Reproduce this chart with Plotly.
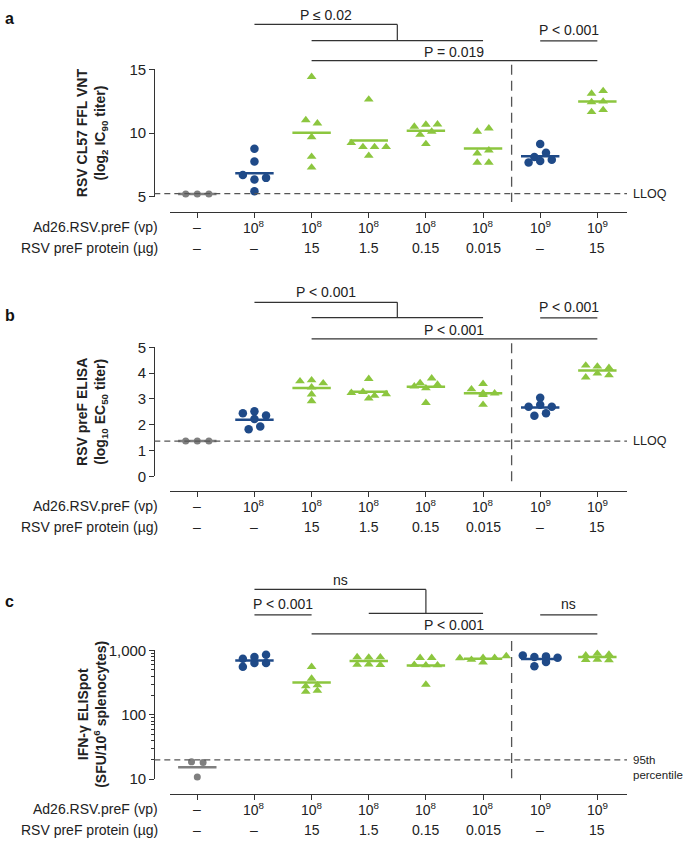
import numpy as np
import plotly.graph_objects as go

# ---------------- data ----------------
vp_labels = ["–", "10<sup>8</sup>", "10<sup>8</sup>", "10<sup>8</sup>", "10<sup>8</sup>",
             "10<sup>8</sup>", "10<sup>9</sup>", "10<sup>9</sup>"]
protein_labels = ["–", "–", "15", "1.5", "0.15", "0.015", "–", "15"]
group_type = ["control", "ad26", "combo", "combo", "combo", "combo", "ad26", "combo"]

# panel a: RSV CL57 FFL VNT (log2 IC90 titer)
vnt_values = [
    [5.23, 5.23, 5.23],
    [8.77, 7.77, 6.72, 6.36, 6.49, 5.44],
    [14.42, 11.03, 10.77, 9.69, 8.15, 7.31],
    [12.65, 9.23, 8.92, 8.92, 8.92, 8.23],
    [10.52, 10.67, 10.69, 9.88, 10.13, 9.15],
    [10.13, 10.38, 8.42, 8.65, 7.69, 7.69],
    [8.13, 7.69, 9.15, 8.46, 7.82, 7.92],
    [13.11, 12.44, 11.67, 13.31, 12.49, 11.82],
]
vnt_means = [5.23, 6.85, 10.03, 9.42, 10.18, 8.80, 8.18, 12.49]
vnt_lloq = 5.25

# panel b: RSV preF ELISA (log10 EC50 titer)
elisa_values = [
    [1.37, 1.37, 1.37],
    [2.45, 2.52, 2.36, 2.22, 1.83, 1.93],
    [3.69, 3.73, 3.61, 3.45, 3.18, 2.92],
    [3.02, 3.24, 3.28, 3.78, 3.13, 3.19],
    [3.62, 3.49, 3.80, 3.42, 3.56, 2.85],
    [3.38, 3.59, 3.22, 3.16, 3.22, 2.78],
    [2.70, 2.35, 3.05, 2.78, 2.45, 2.70],
    [4.30, 3.84, 4.26, 3.99, 4.21, 3.92],
]
elisa_means = [1.37, 2.20, 3.43, 3.28, 3.47, 3.22, 2.67, 4.10]
elisa_lloq = 1.37

# panel c: IFN-gamma ELISpot (SFU/10^6 splenocytes)
elispot_values = [
    [18.6, 10.8, 18.2],
    [745, 556, 791, 640, 859, 640],
    [556, 366, 279, 229, 289, 237],
    [790, 600, 780, 610, 785, 595],
    [600, 770, 590, 295, 770, 590],
    [760, 720, 770, 770, 820, 650],
    [838, 791, 569, 809, 662, 773],
    [840, 715, 889, 720, 869, 710],
]
elispot_means = [15.4, 695, 318, 687, 582, 745, 736, 790]
elispot_95th = 20

# ---------------- styles / layout constants ----------------
W, H = 685, 846
COLORS = {"control": "#7f7f7f", "ad26": "#1f4a88", "combo": "#8cc63f"}
SYMBOLS = {"control": "circle", "ad26": "circle", "combo": "triangle-up"}
SIZES = {"control": 7, "ad26": 8.5, "combo": 8.5}
AX = "#333333"
TXT = "#222222"
FONT = "Liberation Sans, Arial, sans-serif"

GX0, GDX = 140.15, 57.15          # pixel x of group 0, spacing per group
XAX_L, XAX_R = 170, 627           # x-axis line extent (px)
YAX_X = 154.3                     # y-axis line position (px)
STEP = 0.203                      # horizontal spacing of points in a row (group units)
HALF = 0.336                      # half length of mean bar (group units)
FS = 14                           # main text size


def px(v):
    return v / W


def py(v):
    return 1 - v / H


def gx(p):  # pixel -> group units
    return (p - GX0) / GDX


xrange_ = [gx(XAX_L), gx(XAX_R)]

panels = [
    dict(vals=vnt_values, means=vnt_means, thr=vnt_lloq, thr_label="LLOQ", thr_dy=0, thr_fs=12.5,
         rng=[5, 15], log=False,
         top=61.7, bot=191.7, xline=207, row1=222, row2=244,
         tickvals=[5, 10, 15], ticktext=["5", "10", "15"],
         title="RSV CL57 FFL VNT<br>(log<sub>2</sub> IC<sub>90</sub> titer)",
         letter="a", letter_y=10, vline=(57, 197),
         nested=[(2, 3, 6, 15.7, 32.3, "P ≤ 0.02", 6)],
         simple=[(7, 8, 32.5, "P < 0.001", 21), (3, 8, 52.7, "P = 0.019", 43.5)]),
    dict(vals=elisa_values, means=elisa_means, thr=elisa_lloq, thr_label="LLOQ", thr_dy=0, thr_fs=12.5,
         rng=[0, 5], log=False,
         top=345.3, bot=477, xline=491.7, row1=507, row2=529,
         tickvals=[0, 1, 2, 3, 4, 5], ticktext=["0", "1", "2", "3", "4", "5"],
         title="RSV preF ELISA<br>(log<sub>10</sub> EC<sub>50</sub> titer)",
         letter="b", letter_y=313, vline=(341, 482),
         nested=[(2, 3, 6, 299.3, 315, "P < 0.001", 289)],
         simple=[(7, 8, 315.3, "P < 0.001", 304.3), (3, 8, 336.7, "P < 0.001", 327.3)]),
    dict(vals=elispot_values, means=elispot_means, thr=elispot_95th, thr_label="95th<br>percentile",
         thr_dy=8, thr_fs=11.5, rng=[1, 3], log=True,
         top=654.6, bot=786, xline=800.7, row1=816, row2=838,
         tickvals=[10, 100, 1000], ticktext=["10", "100", "1,000"],
         title="IFN-γ ELISpot<br>(SFU/10<sup>6</sup> splenocytes)",
         letter="c", letter_y=605, vline=(645, 785),
         nested=[(2, 4, 6, 592.3, 616.7, "ns", 582.7)],
         simple=[(2, 3, 618.3, "P < 0.001", 607.7), (7, 8, 618.3, "ns", 607.7),
                 (3, 8, 637.7, "P < 0.001", 628.3)]),
]


def row_offsets(vals, ppu, log, thresh=5.0):
    """Arrange points of similar value side by side in centred rows."""
    v = np.log10(np.asarray(vals, float)) if log else np.asarray(vals, float)
    pix = v * ppu
    order = sorted(range(len(v)), key=lambda i: -pix[i])
    rows = []
    for i in order:
        if rows and rows[-1][0] - pix[i] <= thresh:
            rows[-1][1].append(i)
        else:
            rows.append([pix[i], [i]])
    offs = [0.0] * len(v)
    for _, idx in rows:
        idx = sorted(idx)
        n = len(idx)
        for k, i in enumerate(idx):
            offs[i] = (k - (n - 1) / 2) * STEP
    return offs


fig = go.Figure()
layout_axes = {}
shapes = []
annos = []

for pi, P in enumerate(panels):
    n = pi + 1
    xa = "x" if n == 1 else f"x{n}"
    ya = "y" if n == 1 else f"y{n}"
    xkey = "xaxis" if n == 1 else f"xaxis{n}"
    ykey = "yaxis" if n == 1 else f"yaxis{n}"
    lo, hi = P["rng"]
    ppu = (P["bot"] - P["top"]) / (hi - lo)

    layout_axes[xkey] = dict(domain=[px(XAX_L), px(XAX_R)], range=xrange_, anchor="free",
                             position=py(P["xline"]), showline=True, linecolor=AX, linewidth=1.2,
                             ticks="outside", ticklen=5, tickwidth=1, tickcolor=AX,
                             tickvals=list(range(1, 9)), showticklabels=False,
                             showgrid=False, zeroline=False, fixedrange=True)
    ydict = dict(domain=[py(P["bot"]), py(P["top"])], anchor="free", position=px(YAX_X),
                 showline=True, linecolor=AX, linewidth=1.2, ticks="outside", ticklen=5,
                 tickwidth=1, tickcolor=AX, tickvals=P["tickvals"], ticktext=P["ticktext"],
                 tickfont=dict(family=FONT, size=15, color=TXT), showgrid=False,
                 zeroline=False, fixedrange=True)
    if P["log"]:
        ydict.update(type="log", range=[lo, hi],
                     minor=dict(ticks="outside", ticklen=3, tickcolor=AX, tickwidth=1,
                                tickvals=[m * d for d in (10, 100) for m in range(2, 10)]))
    else:
        ydict.update(range=[lo, hi])
    layout_axes[ykey] = ydict

    # points
    for kind in ["control", "ad26", "combo"]:
        xs, ys = [], []
        for g in range(8):
            if group_type[g] != kind:
                continue
            offs = row_offsets(P["vals"][g], ppu, P["log"])
            xs += [g + 1 + o for o in offs]
            ys += list(P["vals"][g])
        fig.add_trace(go.Scatter(x=xs, y=ys, xaxis=xa, yaxis=ya, mode="markers",
                                 marker=dict(color=COLORS[kind], symbol=SYMBOLS[kind],
                                             size=SIZES[kind], line=dict(width=0)),
                                 cliponaxis=False, hoverinfo="skip", showlegend=False))
    # mean bars
    for kind in ["control", "ad26", "combo"]:
        lx, ly = [], []
        for g in range(8):
            if group_type[g] != kind:
                continue
            m = P["means"][g]
            lx += [g + 1 - HALF, g + 1 + HALF, None]
            ly += [m, m, None]
        fig.add_trace(go.Scatter(x=lx, y=ly, xaxis=xa, yaxis=ya, mode="lines",
                                 line=dict(color=COLORS[kind], width=2.5),
                                 hoverinfo="skip", showlegend=False))

    # threshold line + label
    shapes.append(dict(type="line", xref="paper", yref=ya, x0=px(YAX_X), x1=px(XAX_R),
                       y0=P["thr"], y1=P["thr"], line=dict(color="#555555", width=1.3, dash="6px,4px")))
    thr_pix = P["bot"] - ((np.log10(P["thr"]) if P["log"] else P["thr"]) - lo) * ppu
    annos.append(dict(xref="paper", yref="paper", x=px(631), y=py(thr_pix + P["thr_dy"]),
                      text=P["thr_label"], showarrow=False, xanchor="left", yanchor="middle",
                      align="left", font=dict(family=FONT, size=P["thr_fs"], color=TXT)))
    # vertical divider
    shapes.append(dict(type="line", xref=xa, yref="paper", x0=6.5, x1=6.5,
                       y0=py(P["vline"][0]), y1=py(P["vline"][1]),
                       line=dict(color="#555555", width=1.3, dash="10px,6px")))

    # group labels
    for g in range(8):
        annos.append(dict(xref=xa, yref="paper", x=g + 1, y=py(P["row1"]), text=vp_labels[g],
                          showarrow=False, xanchor="center", yanchor="middle",
                          font=dict(family=FONT, size=FS, color=TXT)))
        annos.append(dict(xref=xa, yref="paper", x=g + 1, y=py(P["row2"]), text=protein_labels[g],
                          showarrow=False, xanchor="center", yanchor="middle",
                          font=dict(family=FONT, size=FS, color=TXT)))
    annos.append(dict(xref="paper", yref="paper", x=px(160), y=py(P["row1"]), text="Ad26.RSV.preF (vp)",
                      showarrow=False, xanchor="right", yanchor="middle",
                      font=dict(family=FONT, size=FS, color=TXT)))
    annos.append(dict(xref="paper", yref="paper", x=px(160), y=py(P["row2"]), text="RSV preF protein (µg)",
                      showarrow=False, xanchor="right", yanchor="middle",
                      font=dict(family=FONT, size=FS, color=TXT)))

    # y-axis title
    annos.append(dict(xref="paper", yref="paper", x=px(92), y=py((P["top"] + P["bot"]) / 2),
                      text=P["title"], showarrow=False, textangle=-90, xanchor="center",
                      yanchor="middle", font=dict(family=FONT, size=14, color=TXT, weight="bold")))
    # panel letter
    annos.append(dict(xref="paper", yref="paper", x=px(3), y=py(P["letter_y"]), text=P["letter"],
                      showarrow=False, xanchor="left", yanchor="middle",
                      font=dict(family=FONT, size=16, color="#111111", weight="bold")))

    # significance brackets
    bl = dict(color="#333333", width=1.2)
    for (left, l0, l1, ytop, ylow, text, ytext) in P["nested"]:
        mid = (l0 + l1) / 2
        shapes.append(dict(type="line", xref=xa, yref="paper", x0=left, x1=mid, y0=py(ytop), y1=py(ytop), line=bl))
        shapes.append(dict(type="line", xref=xa, yref="paper", x0=mid, x1=mid, y0=py(ytop), y1=py(ylow), line=bl))
        shapes.append(dict(type="line", xref=xa, yref="paper", x0=l0, x1=l1, y0=py(ylow), y1=py(ylow), line=bl))
        annos.append(dict(xref=xa, yref="paper", x=(left + mid) / 2, y=py(ytext), text=text,
                          showarrow=False, xanchor="center", yanchor="middle",
                          font=dict(family=FONT, size=FS, color=TXT)))
    for (a, b, yl, text, ytext) in P["simple"]:
        shapes.append(dict(type="line", xref=xa, yref="paper", x0=a, x1=b, y0=py(yl), y1=py(yl), line=bl))
        annos.append(dict(xref=xa, yref="paper", x=(a + b) / 2, y=py(ytext), text=text,
                          showarrow=False, xanchor="center", yanchor="middle",
                          font=dict(family=FONT, size=FS, color=TXT)))

fig.update_layout(width=W, height=H, margin=dict(l=0, r=0, t=0, b=0),
                  paper_bgcolor="white", plot_bgcolor="white", showlegend=False,
                  font=dict(family=FONT, color=TXT), shapes=shapes, annotations=annos,
                  **layout_axes)

fig.write_html("out.html", config={"displayModeBar": False},
               post_script="document.body.style.margin='0px';document.body.style.overflow='hidden';")
